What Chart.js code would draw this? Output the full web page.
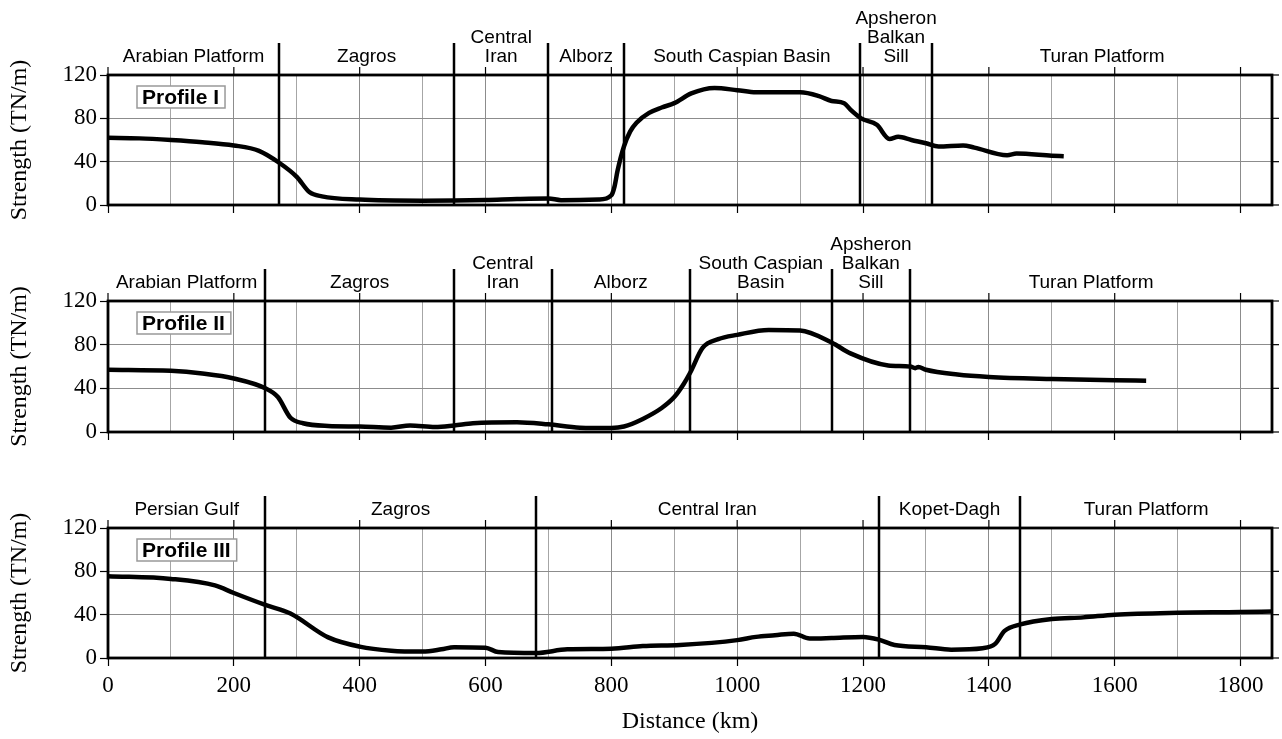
<!DOCTYPE html>
<html>
<head>
<meta charset="utf-8">
<script src="https://cdn.jsdelivr.net/npm/chart.js@4/dist/chart.umd.min.js"></script>
<style>
  html, body { margin: 0; padding: 0; background: #fff; }
  #wrap { position: relative; width: 1282px; height: 739px; }
  canvas { position: absolute; left: 0; }
</style>
</head>
<body>
<div id="wrap">
  <canvas id="c1" width="1282" height="226" style="top:0"></canvas>
  <canvas id="c2" width="1282" height="226" style="top:226px"></canvas>
  <canvas id="c3" width="1282" height="287" style="top:452px"></canvas>
</div>
<script>
// --- Datos ---
const distanceTicks = [0, 200, 400, 600, 800, 1000, 1200, 1400, 1600, 1800];
const strengthTicks = [0, 40, 80, 120];

// Perfil I
const distI = [0, 50, 100, 150, 200, 240, 272, 300, 320, 340, 400, 500, 600, 650, 700, 720, 780, 800, 805, 810, 820, 830, 840, 860, 880, 900, 927, 964, 1000, 1030, 1100, 1130, 1150, 1170, 1180, 1197, 1222, 1242, 1256, 1277, 1300, 1320, 1359, 1377, 1429, 1444, 1500, 1519];
const strengthI = [62, 61.5, 60, 58, 55, 50, 39, 26, 12, 8, 5, 4, 4.6, 5.5, 6, 4.5, 5, 9, 17, 32, 54, 68, 76, 85, 90, 94, 103, 108, 106, 104, 104, 100.5, 96, 94, 88, 80, 74, 61, 63, 60, 57, 54, 55, 53, 46, 47.5, 45.5, 45];
const boundsI = [272, 550, 700, 820, 1195, 1310];
const regionsI = [["Arabian Platform"], ["Zagros"], ["Central", "Iran"], ["Alborz"], ["South Caspian Basin"], ["Apsheron", "Balkan", "Sill"], ["Turan Platform"]];

// Perfil II
const distII = [0, 100, 150, 200, 250, 270, 290, 310, 350, 400, 450, 480, 520, 550, 580, 650, 700, 750, 800, 820, 850, 880, 900, 915, 925, 945, 970, 1000, 1050, 1100, 1150, 1180, 1240, 1275, 1283, 1288, 1300, 1350, 1400, 1500, 1600, 1650];
const strengthII = [57, 56, 53.5, 49, 40, 32, 13, 8, 5.5, 5, 4, 6, 4.6, 6, 8, 9, 7, 4, 3.7, 5, 12, 22, 32, 44, 54, 77, 85, 89, 93.5, 93, 82, 72, 61, 60, 58.5, 59.5, 57, 52.6, 50.4, 48.5, 47.3, 47];
const boundsII = [250, 550, 705, 925, 1150, 1275];
const regionsII = [["Arabian Platform"], ["Zagros"], ["Central", "Iran"], ["Alborz"], ["South Caspian", "Basin"], ["Apsheron", "Balkan", "Sill"], ["Turan Platform"]];

// Perfil III
const distIII = [0, 100, 170, 200, 250, 290, 350, 400, 450, 500, 530, 550, 600, 620, 680, 730, 800, 850, 909, 1000, 1030, 1060, 1090, 1115, 1150, 1200, 1225, 1250, 1300, 1340, 1390, 1410, 1425, 1450, 1500, 1550, 1600, 1700, 1800, 1850];
const strengthIII = [75.5, 73, 67, 60, 49, 41, 19, 10.5, 6.8, 6, 8, 10, 9.5, 5.5, 4.6, 8, 8.5, 11, 12, 16.5, 19.5, 21, 22.5, 18, 18.5, 19.5, 17, 12, 10, 7.7, 9, 13, 25, 31, 36, 37.5, 40, 41.8, 42.4, 43];
const boundsIII = [250, 680, 1225, 1450];
const regionsIII = [["Persian Gulf"], ["Zagros"], ["Central Iran"], ["Kopet-Dagh"], ["Turan Platform"]];

const SANS = "'Liberation Sans', Arial, sans-serif";
const SERIF = "'Liberation Serif', 'Times New Roman', serif";
const X_MAX = 1850;

const isTick = (list, v) => list.includes(Math.round(v));

// --- Decoración: marco, límites de regiones, rótulos ---
const decor = {
  id: "decor",
  beforeDatasetsDraw(chart, args, o) {
    const { ctx, chartArea: a, scales: { x } } = chart;
    ctx.save();
    ctx.strokeStyle = "#000";
    ctx.lineWidth = 2.5;
    o.bounds.forEach(b => {
      const px = Math.round(x.getPixelForValue(b));
      ctx.beginPath();
      ctx.moveTo(px, a.top - 32);
      ctx.lineTo(px, a.bottom);
      ctx.stroke();
    });
    // rótulos de regiones
    const edges = [0, ...o.bounds, X_MAX];
    ctx.fillStyle = "#000";
    ctx.font = "19px " + SANS;
    ctx.textAlign = "center";
    ctx.textBaseline = "middle";
    o.regions.forEach((lines, i) => {
      const cx = x.getPixelForValue((edges[i] + edges[i + 1]) / 2);
      lines.forEach((t, j) => {
        ctx.fillText(t, cx, a.top - 18.5 - (lines.length - 1 - j) * 19);
      });
    });
    // etiqueta del perfil
    ctx.font = "bold 21px " + SANS;
    ctx.textAlign = "left";
    const w = ctx.measureText(o.name).width + 11;
    const bx = a.left + 29, by = a.top + 11;
    ctx.fillStyle = "#fff";
    ctx.fillRect(bx, by, w, 22);
    ctx.strokeStyle = "#999";
    ctx.lineWidth = 1.5;
    ctx.strokeRect(bx, by, w, 22);
    ctx.fillStyle = "#000";
    ctx.fillText(o.name, bx + 5, by + 12);
    ctx.restore();
  },
  afterDatasetsDraw(chart) {
    const { ctx, chartArea: a, scales: { x, y } } = chart;
    ctx.save();
    ctx.strokeStyle = "#000";
    ctx.lineWidth = 1.2;
    distanceTicks.forEach(v => {
      const px = x.getPixelForValue(v);
      ctx.beginPath();
      ctx.moveTo(px, a.top);
      ctx.lineTo(px, a.top - 8);
      ctx.stroke();
    });
    strengthTicks.forEach(v => {
      const py = y.getPixelForValue(v);
      ctx.beginPath();
      ctx.moveTo(a.right, py);
      ctx.lineTo(a.right + 7, py);
      ctx.stroke();
    });
    ctx.lineWidth = 2.8;
    ctx.strokeRect(a.left, a.top, a.right - a.left, a.bottom - a.top);
    ctx.restore();
  }
};

function makeProfile(id, dist, vals, bounds, regions, name, last) {
  const xHeight = last ? 81 : (id === "c1" ? 21 : 20);
  new Chart(document.getElementById(id), {
    type: "line",
    data: {
      datasets: [{
        data: dist.map((d, i) => ({ x: d, y: vals[i] })),
        borderColor: "#000",
        borderWidth: 4.5,
        pointRadius: 0,
        cubicInterpolationMode: "monotone",
        fill: false
      }]
    },
    options: {
      responsive: false,
      animation: false,
      layout: { padding: { top: last ? 76 : 75, right: 10, bottom: 0, left: 0 } },
      plugins: {
        legend: { display: false },
        tooltip: { enabled: false },
        decor: { bounds, regions, name }
      },
      scales: {
        x: {
          type: "linear",
          min: 0,
          max: X_MAX,
          afterFit: s => { s.height = xHeight; },
          border: { display: false },
          grid: {
            color: c => (c.tick && Math.round(c.tick.value) % 200 === 0) ? "#8c8c8c" : "#a6a6a6",
            lineWidth: 1,
            tickLength: 8,
            tickWidth: 1.2,
            tickColor: c => (c.tick && isTick(distanceTicks, c.tick.value)) ? "#000" : "rgba(0,0,0,0)"
          },
          ticks: {
            display: last,
            stepSize: 100,
            includeBounds: false,
            autoSkip: false,
            maxRotation: 0,
            padding: 6,
            color: "#000",
            font: { family: SERIF, size: 23, lineHeight: 1.2 },
            callback: v => isTick(distanceTicks, v) ? String(Math.round(v)) : ""
          },
          title: {
            display: last,
            text: "Distance (km)",
            color: "#000",
            font: { family: SERIF, size: 24, lineHeight: 1.2 },
            padding: { top: 0, bottom: 3 }
          }
        },
        y: {
          min: 0,
          max: 120,
          afterFit: s => { s.width = 108; },
          border: { display: false },
          grid: {
            color: c => (c.tick && Math.round(c.tick.value) % 40 === 0) ? "#8c8c8c" : "#b4b4b4",
            lineWidth: 1,
            tickLength: 8,
            tickWidth: 1.2,
            tickColor: c => (c.tick && isTick(strengthTicks, c.tick.value)) ? "#000" : "rgba(0,0,0,0)"
          },
          ticks: {
            stepSize: 20,
            padding: 3,
            color: "#000",
            font: { family: SERIF, size: 23, lineHeight: 1.2 },
            callback: v => isTick(strengthTicks, v) ? String(Math.round(v)) : ""
          },
          title: {
            display: true,
            text: "Strength (TN/m)",
            color: "#000",
            font: { family: SERIF, size: 24, lineHeight: 1.2 },
            padding: { top: 5, bottom: 0 }
          }
        }
      }
    },
    plugins: [decor]
  });
}

makeProfile("c1", distI, strengthI, boundsI, regionsI, "Profile I", false);
makeProfile("c2", distII, strengthII, boundsII, regionsII, "Profile II", false);
makeProfile("c3", distIII, strengthIII, boundsIII, regionsIII, "Profile III", true);
</script>
</body>
</html>
